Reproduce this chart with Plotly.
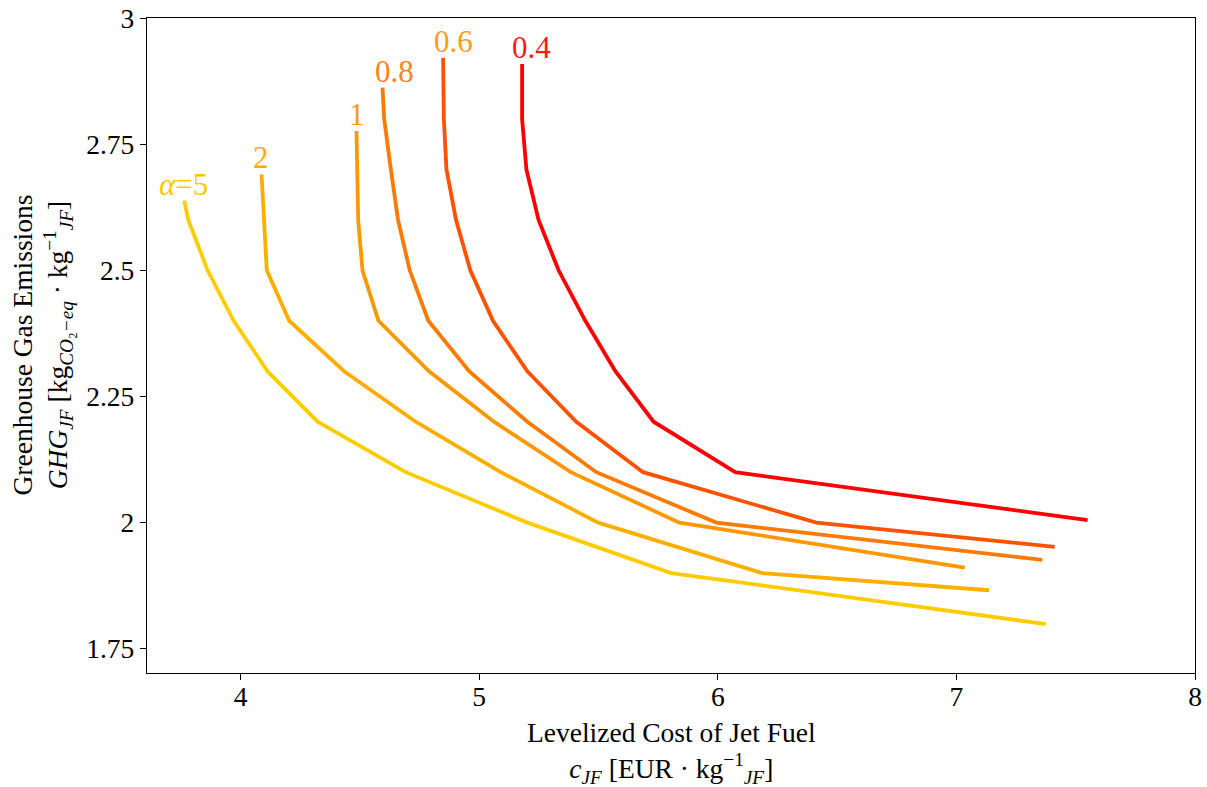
import plotly.graph_objects as go

# ---- data ----
alpha_labels = ["0.4", "0.6", "0.8", "1", "2", "α=5"]

cost_a04 = [5.18, 5.18, 5.198, 5.249, 5.333, 5.445, 5.571, 5.731, 6.073, 7.55]
ghg_a04 = [2.909, 2.8, 2.7, 2.6, 2.5, 2.4, 2.3, 2.2, 2.1, 2.005]

cost_a06 = [4.849, 4.852, 4.863, 4.903, 4.963, 5.058, 5.202, 5.407, 5.687, 6.413, 7.412]
ghg_a06 = [2.921, 2.8, 2.7, 2.6, 2.5, 2.4, 2.3, 2.2, 2.1, 2.0, 1.952]

cost_a08 = [4.595, 4.602, 4.63, 4.66, 4.709, 4.787, 4.958, 5.202, 5.491, 5.994, 7.36]
ghg_a08 = [2.862, 2.8, 2.7, 2.6, 2.5, 2.4, 2.3, 2.2, 2.1, 2.0, 1.926]

cost_a1 = [4.486, 4.488, 4.493, 4.511, 4.578, 4.79, 5.062, 5.384, 5.839, 7.035]
ghg_a1 = [2.776, 2.7, 2.6, 2.5, 2.4, 2.3, 2.2, 2.1, 2.0, 1.911]

cost_a2 = [4.088, 4.099, 4.11, 4.204, 4.434, 4.734, 5.09, 5.499, 6.186, 7.137]
ghg_a2 = [2.69, 2.6, 2.5, 2.4, 2.3, 2.2, 2.1, 2.0, 1.9, 1.866]

cost_a5 = [3.764, 3.781, 3.862, 3.971, 4.113, 4.323, 4.692, 5.202, 5.805, 7.375]
ghg_a5 = [2.638, 2.6, 2.5, 2.4, 2.3, 2.2, 2.1, 2.0, 1.9, 1.799]

x_ticks = [4, 5, 6, 7, 8]
y_ticks = [1.75, 2.0, 2.25, 2.5, 2.75, 3.0]
y_tick_text = ["1.75", "2", "2.25", "2.5", "2.75", "3"]

x_title = "Levelized Cost of Jet Fuel<br><i>c</i><sub><i>JF</i></sub> [EUR · kg<sup>−1</sup><sub><i>JF</i></sub>]"
y_title = ("Greenhouse Gas Emissions<br><i>GHG</i><sub><i>JF</i></sub> "
           "[kg<sub><i>CO</i>₂<i>−eq</i></sub> · kg<sup>−1</sup><sub><i>JF</i></sub>]")

# ---- styles ----
line_colors = ["#ff0000", "#ff5200", "#ff7a00", "#ff9800", "#ffae00", "#ffcc00"]
label_colors = ["#ff1a1a", "#ff9a1a", "#ff821a", "#ff9a10", "#ffac00", "#ffc800"]
label_xshift = [-12, -11, -10, -10, -11, -27]

series = [
    (cost_a04, ghg_a04),
    (cost_a06, ghg_a06),
    (cost_a08, ghg_a08),
    (cost_a1, ghg_a1),
    (cost_a2, ghg_a2),
    (cost_a5, ghg_a5),
]

FONT = "Liberation Serif"
FS = 27.5

fig = go.Figure()
for (xs, ys), col, lab in zip(series, line_colors, alpha_labels):
    fig.add_trace(go.Scatter(x=xs, y=ys, mode="lines", name=lab,
                             line=dict(color=col, width=3.8), showlegend=False))

for (xs, ys), col, lab, xs_ in zip(series, label_colors, alpha_labels, label_xshift):
    text = lab.replace("α", "<i>α</i>")
    fig.add_annotation(x=xs[0], y=ys[0], text=text, showarrow=False,
                       xanchor="left", yanchor="bottom", xshift=xs_, yshift=-3,
                       font=dict(family=FONT, size=31, color=col))

# axis titles as paper annotations
fig.add_annotation(xref="paper", yref="paper", x=0.5, y=0, text=x_title, showarrow=False,
                   xanchor="center", yanchor="middle", yshift=-79,
                   font=dict(family=FONT, size=FS, color="black"))
fig.add_annotation(xref="paper", yref="paper", x=0, y=0.5, text=y_title, showarrow=False,
                   xanchor="center", yanchor="middle", xshift=-105, textangle=-90,
                   font=dict(family=FONT, size=FS, color="black"))

fig.update_layout(
    width=1207, height=787,
    margin=dict(l=147, r=12, t=18, b=114, autoexpand=False),
    paper_bgcolor="white", plot_bgcolor="white",
    font=dict(family=FONT, size=FS, color="black"),
)

common = dict(ticks="outside", ticklen=6, tickwidth=1.2, tickcolor="black", showgrid=False,
              zeroline=False, showline=True, linecolor="black", linewidth=1.3, mirror=True,
              tickfont=dict(family=FONT, size=FS), automargin=False)

fig.update_xaxes(range=[3.608, 8.0], tickvals=x_ticks, ticklabelstandoff=-7, **common)
fig.update_yaxes(range=[1.702, 3.0], tickvals=y_ticks, ticktext=y_tick_text, **common)

fig.write_html("out.html", config={"displayModeBar": False},
               post_script="document.body.style.margin='0';document.body.style.overflow='hidden';")
